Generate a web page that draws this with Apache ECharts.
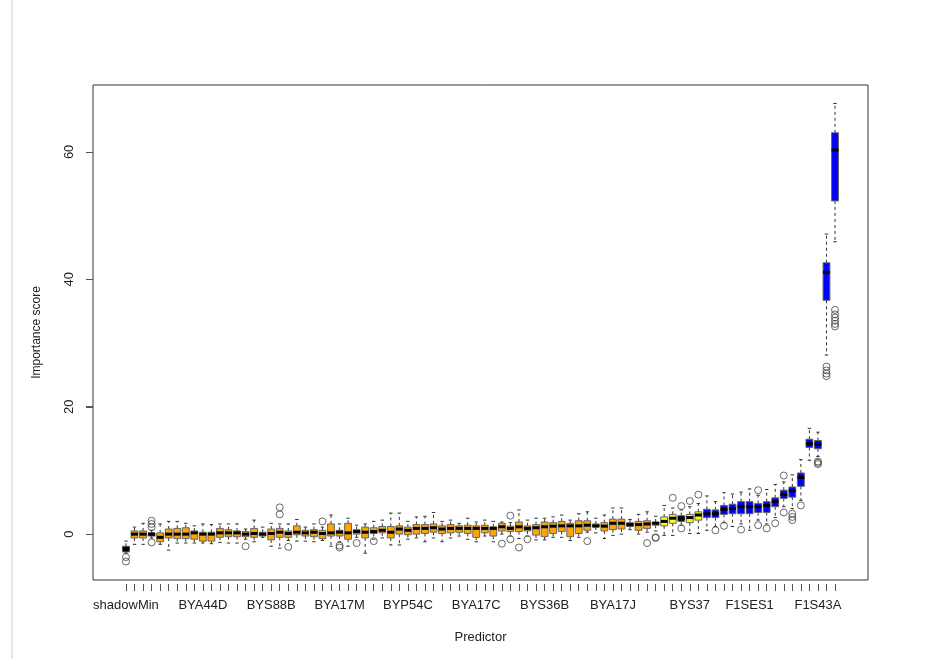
<!DOCTYPE html>
<html>
<head>
<meta charset="utf-8">
<title>Importance score by predictor</title>
<script src="https://cdn.jsdelivr.net/npm/echarts@6/dist/echarts.min.js"></script>
<style>
  html, body { margin: 0; padding: 0; background: #fff; }
  #main { width: 940px; height: 659px; }
</style>
</head>
<body>
<div id="main"></div>
<script>
// predictor names (only the ones printed on the axis are legible, the rest stay blank)
var predictors = [
  "shadowMin", "", "", "shadowMean", "", "", "", "", "", "BYA44D",
  "", "", "", "", "", "", "", "BYS88B", "", "",
  "", "", "", "", "", "BYA17M", "", "", "", "",
  "", "", "", "BYP54C", "", "", "", "", "", "",
  "", "BYA17C", "", "", "", "", "", "", "", "BYS36B",
  "", "", "", "", "", "", "", "BYA17J", "", "",
  "", "", "", "", "", "shadowMax", "BYS37", "", "", "",
  "", "", "", "F1SES1", "", "", "", "", "", "",
  "", "F1S43A", "", ""
];

// S = shadow, R = rejected, T = tentative, C = confirmed
var decision = [
  "S","R","R","S","R","R","R","R","R","R",
  "R","R","R","R","R","R","R","R","R","R",
  "R","R","R","R","R","R","R","R","R","R",
  "R","R","R","R","R","R","R","R","R","R",
  "R","R","R","R","R","R","R","R","R","R",
  "R","R","R","R","R","R","R","R","R","R",
  "R","R","R","T","T","S","T","T","C","C",
  "C","C","C","C","C","C","C","C","C","C",
  "C","C","C","C"
];

var whiskerLow = [
  -3.0, -1.6, -1.6, -0.6, -1.6, -2.5, -1.4, -1.4, -1.4, -1.4,
  -1.5, -1.3, -1.4, -1.4, -0.8, -1.2, -0.5, -1.9, -2.2, -1.0,
  -1.1, -1.1, -1.2, -1.0, -1.9, -1.2, -1.9, -0.5, -3.0, -0.8,
  -0.6, -1.7, -1.7, -0.8, -0.6, -1.2, -0.6, -1.2, -0.6, -0.3,
  -0.8, -1.2, -0.3, -1.2, 0.0, -0.3, -0.7, -0.3, -0.9, -0.9,
  -0.5, -0.5, -1.0, -0.5, 0.3, 0.2, -0.7, -0.2, 0.0, 0.7,
  0.0, 0.3, 0.5, -0.2, -0.2, 1.4, 0.1, 0.1, 0.6, 1.2,
  1.8, 1.2, 1.6, 0.6, 2.2, 1.6, 2.6, 4.3, 4.0, 5.3,
  11.6, 12.2, 28.1, 45.9
];

var q1 = [
  -2.8, -0.6, -0.6, -0.3, -1.2, -0.6, -0.7, -0.7, -0.8, -1.1,
  -1.1, -0.5, -0.4, -0.4, -0.4, -0.5, -0.3, -0.9, -0.5, -0.5,
  -0.1, -0.3, -0.4, -0.7, -0.3, -0.3, -0.8, 0.0, -0.6, 0.1,
  0.2, -0.6, 0.0, -0.1, 0.0, 0.1, 0.3, 0.1, 0.2, 0.3,
  0.1, -0.5, 0.2, -0.3, 0.5, 0.4, 0.4, 0.5, -0.15, -0.4,
  0.1, 0.4, -0.4, 0.1, 0.6, 1.1, 0.5, 0.7, 0.8, 1.2,
  0.6, 0.9, 1.4, 1.3, 1.7, 2.0, 1.8, 2.2, 2.6, 2.6,
  3.1, 3.2, 3.2, 3.2, 3.4, 3.4, 4.3, 5.6, 5.8, 7.5,
  13.6, 13.4, 36.7, 52.3
];

var median = [
  -2.3, 0.0, 0.0, 0.0, -0.5, 0.0, 0.0, 0.0, 0.2, 0.0,
  0.0, 0.2, 0.2, 0.2, 0.0, 0.1, 0.0, 0.1, 0.3, 0.1,
  0.3, 0.2, 0.3, 0.1, 0.2, 0.3, 0.2, 0.4, 0.3, 0.4,
  0.6, 0.3, 0.8, 0.6, 0.9, 0.9, 1.0, 0.8, 0.9, 0.9,
  0.9, 0.9, 0.9, 0.9, 1.15, 0.9, 1.15, 0.9, 1.0, 1.15,
  1.25, 1.3, 1.3, 1.3, 1.4, 1.3, 1.25, 1.7, 1.7, 1.5,
  1.5, 1.6, 1.7, 2.0, 2.5, 2.5, 2.6, 3.0, 3.2, 3.2,
  3.9, 4.0, 4.3, 4.3, 4.3, 4.5, 5.1, 6.2, 6.8, 8.9,
  14.2, 14.1, 41.1, 60.3
];

var q3 = [
  -1.9, 0.5, 0.5, 0.2, 0.2, 0.8, 0.9, 1.0, 0.5, 0.3,
  0.3, 0.9, 0.7, 0.5, 0.4, 0.9, 0.3, 0.8, 0.9, 0.5,
  1.3, 0.6, 0.7, 0.6, 1.6, 0.6, 1.7, 0.7, 1.1, 1.0,
  1.2, 1.2, 1.3, 1.1, 1.5, 1.5, 1.6, 1.3, 1.5, 1.3,
  1.4, 1.3, 1.4, 1.15, 1.7, 1.25, 1.9, 1.3, 1.5, 1.9,
  1.8, 2.0, 1.7, 2.1, 2.1, 1.6, 1.8, 2.35, 2.35, 1.8,
  2.0, 2.1, 1.9, 2.7, 3.1, 2.9, 3.1, 3.5, 3.9, 3.8,
  4.5, 4.7, 5.1, 5.1, 4.8, 5.1, 5.7, 6.9, 7.4, 9.6,
  14.9, 14.7, 42.6, 63.0
];

var whiskerHigh = [
  -1.1, 1.1, 1.7, 0.6, 1.6, 2.0, 2.0, 1.7, 1.3, 1.6,
  1.5, 1.6, 1.6, 1.6, 0.8, 2.2, 1.1, 1.7, 1.6, 1.6,
  2.3, 1.1, 1.6, 1.1, 3.0, 1.6, 2.5, 1.4, 1.6, 2.0,
  2.2, 3.3, 3.3, 2.0, 2.7, 2.8, 3.4, 2.0, 2.2, 1.7,
  2.5, 1.9, 2.2, 2.0, 1.9, 1.8, 3.8, 2.2, 2.5, 2.5,
  2.7, 3.0, 2.2, 3.2, 3.5, 2.5, 3.0, 4.1, 4.1, 2.3,
  3.1, 3.5, 2.8, 4.5, 4.1, 3.8, 4.3, 4.8, 6.0, 5.1,
  6.5, 6.3, 6.6, 7.1, 6.1, 7.0, 7.8, 8.2, 9.3, 11.7,
  16.6, 16.0, 47.1, 67.6
];

// outliers as [predictor index, score]
var outliers = [
  [0, -3.6], [0, -4.3],
  [3, 2.1], [3, 1.6], [3, 1.1], [3, -1.3],
  [14, -1.9], [18, 4.2], [18, 3.1], [19, -2.0], [23, 2.0],
  [25, -1.8], [25, -2.1], [27, -1.4], [29, -1.1],
  [44, -1.5], [45, 2.9], [45, -0.8], [46, -2.1], [47, -0.8],
  [54, -1.1], [61, -1.4], [62, -0.5], [62, -0.6],
  [64, 5.7], [65, 4.4], [65, 0.9], [66, 5.2], [67, 6.2],
  [69, 0.6], [70, 1.3], [72, 0.7], [74, 6.9], [74, 1.4],
  [75, 0.9], [76, 1.7], [77, 9.2], [77, 3.4],
  [78, 3.2], [78, 2.7], [78, 2.2], [79, 4.5],
  [81, 11.4], [81, 11.2], [81, 11.0],
  [82, 26.3], [82, 25.7], [82, 25.2], [82, 24.8],
  [83, 35.2], [83, 34.5], [83, 34.0], [83, 33.5], [83, 33.0], [83, 32.6]
];

var labelIndex = [0, 9, 17, 25, 33, 41, 49, 57, 66, 73, 81];
var yTicks = [0, 20, 40, 60];

var fillOf = { S: "#000000", R: "#FFA500", T: "#FFFF00", C: "#0000FF" };
var font = "'Liberation Sans', Arial, sans-serif";

var n = predictors.length;
var xMin = 0.5 - 0.04 * n;
var xMax = n + 0.5 + 0.04 * n;
var yMin = -7.2;
var yMax = 70.5;

var boxData = [];
for (var i = 0; i < n; i++) {
  boxData.push([i + 1, whiskerLow[i], q1[i], median[i], q3[i], whiskerHigh[i]]);
}
var outlierData = outliers.map(function (o) { return [o[0] + 1, o[1]]; });
var tickPos = [];
for (var k = 1; k <= n; k++) tickPos.push(k);
var yTickData = yTicks.map(function (v) { return [xMin, v]; });

var myChart = echarts.init(document.getElementById("main"), null, { renderer: "canvas" });

function renderBox(params, api) {
  var x = api.value(0);
  var pLo = api.coord([x, api.value(1)]);
  var pQ1 = api.coord([x, api.value(2)]);
  var pMed = api.coord([x, api.value(3)]);
  var pQ3 = api.coord([x, api.value(4)]);
  var pHi = api.coord([x, api.value(5)]);
  var w = api.size([0.8, 0])[0];
  var hw = w / 2;
  var cap = w / 4;
  var cx = pMed[0];
  var dash = { stroke: "#333", lineWidth: 1, lineDash: [3, 3] };
  var solid = { stroke: "#333", lineWidth: 1 };
  return {
    type: "group",
    children: [
      { type: "line", shape: { x1: cx, y1: pQ3[1], x2: cx, y2: pHi[1] }, style: dash },
      { type: "line", shape: { x1: cx, y1: pQ1[1], x2: cx, y2: pLo[1] }, style: dash },
      { type: "line", shape: { x1: cx - cap, y1: pHi[1], x2: cx + cap, y2: pHi[1] }, style: solid },
      { type: "line", shape: { x1: cx - cap, y1: pLo[1], x2: cx + cap, y2: pLo[1] }, style: solid },
      {
        type: "rect",
        shape: { x: cx - hw, y: pQ3[1], width: w, height: pQ1[1] - pQ3[1] },
        style: { fill: fillOf[decision[params.dataIndex]], stroke: "#666", lineWidth: 1 }
      },
      { type: "line", shape: { x1: cx - hw, y1: pMed[1], x2: cx + hw, y2: pMed[1] }, style: { stroke: "#000", lineWidth: 3 } }
    ]
  };
}

// y-axis tick marks and their rotated labels, placed through the y scale
function renderYTick(params, api) {
  var v = api.value(1);
  var p = api.coord([api.value(0), v]);
  var y = Math.round(p[1]);
  return {
    type: "group",
    children: [
      { type: "rect", shape: { x: p[0] - 7, y: y, width: 7, height: 1 }, style: { fill: "#555" } },
      {
        type: "text",
        x: p[0] - 24,
        y: p[1],
        rotation: Math.PI / 2,
        style: {
          text: String(v),
          fill: "#222",
          font: "13px " + font,
          align: "center",
          verticalAlign: "middle"
        }
      }
    ]
  };
}

var option = {
  backgroundColor: "#fff",
  animation: false,
  graphic: [
    { type: "rect", left: 11, top: 0, shape: { width: 2, height: 659 }, style: { fill: "#e6e6e6" } }
  ],
  grid: {
    left: 93,
    right: 72,
    top: 85,
    bottom: 79,
    show: true,
    borderColor: "#333",
    borderWidth: 1,
    backgroundColor: "transparent"
  },
  xAxis: {
    type: "value",
    min: xMin,
    max: xMax,
    offset: 4,
    name: "Predictor",
    nameLocation: "middle",
    nameGap: 47,
    nameTextStyle: { fontFamily: font, fontSize: 13, color: "#222" },
    axisLine: { show: false, onZero: false },
    splitLine: { show: false },
    axisTick: { show: true, customValues: tickPos, length: 7, lineStyle: { color: "#555" } },
    axisLabel: {
      customValues: labelIndex.map(function (j) { return j + 1; }),
      formatter: function (v) { return predictors[Math.round(v) - 1]; },
      margin: 15,
      fontFamily: font,
      fontSize: 13,
      color: "#222"
    }
  },
  yAxis: {
    type: "value",
    position: "left",
    min: yMin,
    max: yMax,
    name: "Importance score",
    nameLocation: "middle",
    nameRotate: 90,
    nameGap: 56,
    nameTextStyle: { fontFamily: font, fontSize: 12, color: "#222", verticalAlign: "middle" },
    axisLine: { show: false, onZero: false },
    splitLine: { show: false },
    axisTick: { show: true, customValues: yTicks, length: 7, lineStyle: { color: "#555" } },
    axisLabel: { show: false }
  },
  series: [
    {
      name: "yTicks",
      type: "custom",
      renderItem: renderYTick,
      clip: false,
      silent: true,
      encode: { x: 0, y: 1 },
      data: yTickData,
      z: 10
    },
    {
      name: "box",
      type: "custom",
      renderItem: renderBox,
      encode: { x: 0, y: [1, 2, 3, 4, 5] },
      data: boxData,
      z: 2
    },
    {
      name: "outliers",
      type: "scatter",
      symbol: "circle",
      symbolSize: 7,
      itemStyle: { color: "transparent", borderColor: "#444", borderWidth: 1 },
      data: outlierData,
      z: 3
    }
  ]
};

myChart.setOption(option);
</script>
</body>
</html>
